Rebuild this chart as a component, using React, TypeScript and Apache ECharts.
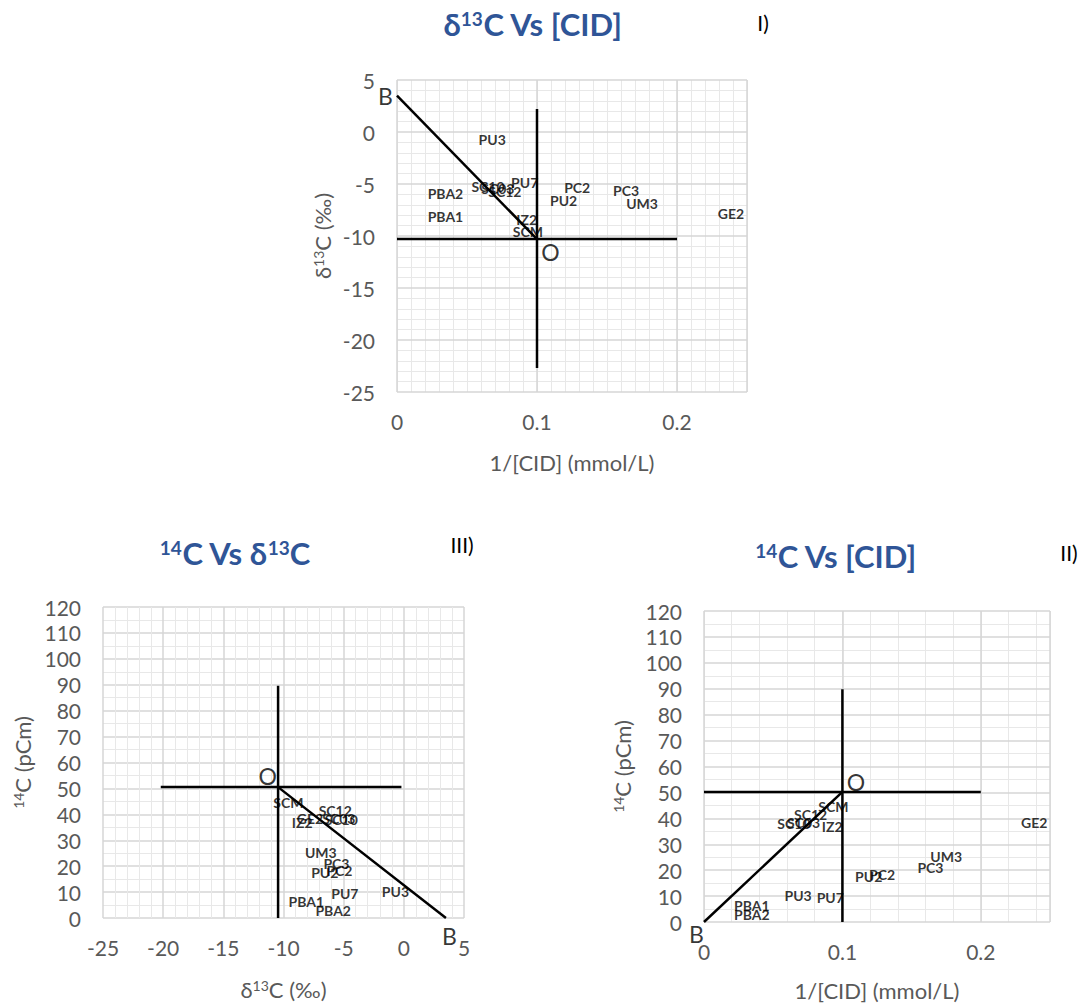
import React, { useEffect, useRef } from 'react';
import * as echarts from 'echarts';

// ---- data ----
const samples = ['SCM', 'IZ2', 'SC12', 'SC10', 'SC03', 'GE2', 'UM3', 'PC3', 'PC2', 'PU2', 'PU3', 'PU7', 'PBA1', 'PBA2'];
const invCID = [0.0935, 0.0926, 0.077, 0.065, 0.072, 0.2386, 0.175, 0.1636, 0.1287, 0.119, 0.068, 0.0912, 0.0346, 0.0346];
const d13C = [-9.6, -8.45, -5.7, -5.2, -5.4, -7.8, -6.9, -5.6, -5.35, -6.57, -0.7, -4.9, -8.1, -5.87];
const c14 = [44.4, 36.7, 41.3, 38.0, 38.2, 38.4, 25.1, 21.0, 18.4, 17.4, 10.3, 9.6, 6.4, 3.0];

// hand-drawn mixing lines: origin O, end member B, cross-hair extents
const originI = [0.1, -10.3];
const endBI = [0, 3.5];
const crossXI = [0, 0.2];
const crossYI = [-22.7, 2.2];

const originIII = [-10.45, 50.5];
const endBIII = [3.5, 0];
const crossXIII = [-20.2, -0.2];
const crossYIII = [0, 89.6];

const originII = [0.1, 50.2];
const endBII = [0, 0];
const crossXII = [0, 0.2];
const crossYII = [0, 89.8];

// axis tick settings
const cidTicks = { min: 0, max: 0.25, interval: 0.1 };
const d13Ticks = { min: -25, max: 5, interval: 5 };
const c14Ticks = { min: 0, max: 120, interval: 10 };

const FONT = "Lato, 'Noto Sans', sans-serif";
const TICK = '#595959';
const MAJOR = '#d6d6d6';
const MINOR = '#e8e8e8';
const TITLE = '#2F5597';
const TICK_SIZE = 21;

const nameStyle = {
  color: TICK,
  fontSize: 22,
  fontFamily: FONT,
  rich: {
    t: { fontSize: 22, color: TICK, fontFamily: FONT },
    s: { fontSize: 14, color: TICK, fontFamily: FONT, verticalAlign: 'top' },
  },
};

const tickLabel = (margin: number, extra: any = {}) => ({ color: TICK, fontSize: TICK_SIZE, fontFamily: FONT, margin, ...extra });

function majorAxis(gridIndex: number, ticks: any, extra: any) {
  return {
    type: 'value',
    gridIndex,
    min: ticks.min,
    max: ticks.max,
    interval: ticks.interval,
    axisLine: { show: false },
    axisTick: { show: false },
    axisLabel: tickLabel(19),
    splitLine: { show: true, lineStyle: { color: MAJOR, width: 1.5 } },
    nameLocation: 'middle',
    nameTextStyle: nameStyle,
    z: 1,
    ...extra,
  };
}

function minorAxis(gridIndex: number, ticks: any, interval: number) {
  return {
    type: 'value',
    gridIndex,
    position: 'top',
    min: ticks.min,
    max: ticks.max,
    interval,
    axisLine: { show: false },
    axisTick: { show: false },
    axisLabel: { show: false },
    splitLine: { show: true, lineStyle: { color: MINOR, width: 1 } },
    z: 0,
  };
}

const labelStyle = {
  show: true,
  position: 'inside',
  formatter: '{b}',
  color: '#000',
  fontWeight: 'bold',
  fontSize: 14,
  fontFamily: FONT,
};

function pointsSeries(xi: number, yi: number, xs: number[], ys: number[]) {
  return {
    type: 'scatter',
    xAxisIndex: xi,
    yAxisIndex: yi,
    symbolSize: 1,
    itemStyle: { color: 'rgba(0,0,0,0)' },
    label: labelStyle,
    data: samples.map((s, i) => ({ name: s, value: [xs[i], ys[i]] })),
    z: 5,
  };
}

function lineSeries(xi: number, yi: number, data: number[][]) {
  return {
    type: 'line',
    xAxisIndex: xi,
    yAxisIndex: yi,
    data,
    symbol: 'none',
    lineStyle: { color: '#000', width: 2.5 },
    z: 4,
  };
}

function mixingLines(xi: number, yi: number, O: number[], B: number[], cx: number[], cy: number[]) {
  return [
    lineSeries(xi, yi, [B, O]),
    lineSeries(xi, yi, [[cx[0], O[1]], [cx[1], O[1]]]),
    lineSeries(xi, yi, [[O[0], cy[0]], [O[0], cy[1]]]),
  ];
}

function letterSeries(xi: number, yi: number, O: number[], B: number[], oOff: number[], bOff: number[]) {
  const lab = (t: string, off: number[]) => ({
    show: true,
    formatter: t,
    position: off,
    align: 'center',
    verticalAlign: 'middle',
    color: '#000',
    fontSize: 23,
    fontFamily: FONT,
  });
  return {
    type: 'scatter',
    xAxisIndex: xi,
    yAxisIndex: yi,
    symbolSize: 1,
    itemStyle: { color: 'rgba(0,0,0,0)' },
    data: [
      { value: O, label: lab('O', oOff) },
      { value: B, label: lab('B', bOff) },
    ],
    z: 6,
  };
}

const titleRich = {
  m: { fontSize: 31, fontWeight: 'bold', color: TITLE, fontFamily: FONT },
  s: { fontSize: 19, fontWeight: 'bold', color: TITLE, fontFamily: FONT, verticalAlign: 'top' },
};

function titleText(text: string, x: number, y: number) {
  return {
    type: 'text',
    x,
    y,
    style: { text, rich: titleRich, align: 'center', verticalAlign: 'middle', fill: TITLE, font: `bold 31px ${FONT}` },
  };
}

function romanText(text: string, x: number, y: number) {
  return {
    type: 'text',
    x,
    y,
    style: { text, align: 'center', verticalAlign: 'middle', fill: '#000', fontSize: 21, fontFamily: FONT },
  };
}

export default function App() {
  const ref = useRef<HTMLDivElement>(null);
  useEffect(() => {
    if (!ref.current) return;
    const chart = echarts.init(ref.current, undefined, { renderer: 'svg' });
    const option: any = {
      animation: false,
      backgroundColor: '#fff',
      grid: [
        { left: 397, top: 80, width: 350, height: 312 },
        { left: 103, top: 607, width: 361, height: 311 },
        { left: 704, top: 611, width: 346, height: 311 },
      ],
      xAxis: [
        majorAxis(0, cidTicks, { name: '1/[CID] (mmol/L)', nameGap: 59, axisLabel: tickLabel(19, { showMaxLabel: false }) }),
        minorAxis(0, cidTicks, 0.01),
        majorAxis(1, d13Ticks, {
          name: '{t|δ}{s|13}{t|C (‰)}',
          nameGap: 60,
          minorTick: { show: false, splitNumber: 5 },
          minorSplitLine: { show: true, lineStyle: { color: MINOR, width: 1 } },
        }),
        majorAxis(2, cidTicks, { name: '1/[CID] (mmol/L)', nameGap: 57, axisLabel: tickLabel(19, { showMaxLabel: false }) }),
        minorAxis(2, cidTicks, 0.02),
      ],
      yAxis: [
        majorAxis(0, d13Ticks, {
          name: '{t|δ}{s|13}{t|C (‰)}',
          nameGap: 64,
          axisLabel: tickLabel(22),
          minorTick: { show: false, splitNumber: 5 },
          minorSplitLine: { show: true, lineStyle: { color: MINOR, width: 1 } },
        }),
        majorAxis(1, c14Ticks, {
          name: '{s|14}{t|C (pCm)}',
          nameGap: 70,
          axisLabel: tickLabel(22),
          minorTick: { show: false, splitNumber: 2 },
          minorSplitLine: { show: true, lineStyle: { color: MINOR, width: 1 } },
        }),
        majorAxis(2, c14Ticks, {
          name: '{s|14}{t|C (pCm)}',
          nameGap: 71,
          axisLabel: tickLabel(22),
          minorTick: { show: false, splitNumber: 2 },
          minorSplitLine: { show: true, lineStyle: { color: MINOR, width: 1 } },
        }),
      ],
      series: [
        pointsSeries(0, 0, invCID, d13C),
        ...mixingLines(0, 0, originI, endBI, crossXI, crossYI),
        letterSeries(0, 0, originI, endBI, [14, 13], [-11, 1]),

        pointsSeries(2, 1, d13C, c14),
        ...mixingLines(2, 1, originIII, endBIII, crossXIII, crossYIII),
        letterSeries(2, 1, originIII, endBIII, [-10, -11], [4, 18]),

        pointsSeries(3, 2, invCID, c14),
        ...mixingLines(3, 2, originII, endBII, crossXII, crossYII),
        letterSeries(3, 2, originII, endBII, [14, -9], [-7, 12]),
      ],
      graphic: [
        titleText('{m|δ}{s|13}{m|C Vs [CID]}', 533, 24),
        titleText('{s|14}{m|C Vs δ}{s|13}{m|C}', 235, 553),
        titleText('{s|14}{m|C Vs [CID]}', 836, 556),
        romanText('I)', 763, 22),
        romanText('III)', 462, 544),
        romanText('II)', 1069, 552),
      ],
    };
    chart.setOption(option);
    return () => chart.dispose();
  }, []);
  return <div ref={ref} style={{ position: 'absolute', left: 0, top: 0, width: 1082, height: 1005 }} />;
}
